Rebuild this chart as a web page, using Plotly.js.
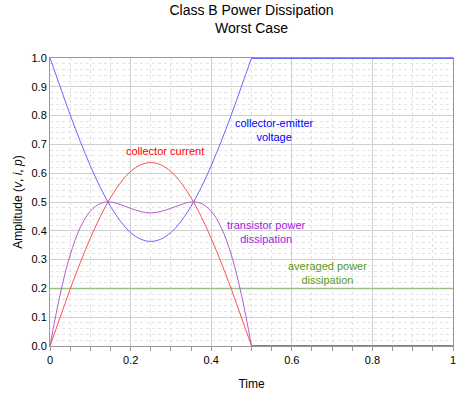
<!DOCTYPE html>
<html>
<head>
<meta charset="utf-8">
<script src="https://cdn.plot.ly/plotly-3.0.1.min.js"></script>
<style>html,body{margin:0;padding:0;background:#fff;}#chart{width:471px;height:393px;}</style>
</head>
<body>
<div id="chart"></div>
<script>
// Half-cycle (conducting) portion
const timeHalf = [0, 0.025, 0.05, 0.075, 0.1, 0.125, 0.15, 0.175, 0.2, 0.225, 0.25,
                  0.275, 0.3, 0.325, 0.35, 0.375, 0.4, 0.425, 0.45, 0.475, 0.5];
const collectorCurrent = [0, 0.099, 0.197, 0.289, 0.374, 0.450, 0.515, 0.567, 0.606, 0.629, 0.637,
                          0.629, 0.606, 0.567, 0.515, 0.450, 0.374, 0.289, 0.197, 0.099, 0];
const collectorVoltage = [1.0, 0.901, 0.803, 0.711, 0.626, 0.550, 0.485, 0.433, 0.394, 0.371, 0.363,
                          0.371, 0.394, 0.433, 0.485, 0.550, 0.626, 0.711, 0.803, 0.901, 1.0];
const transistorPower = [0, 0.178, 0.316, 0.411, 0.468, 0.495, 0.500, 0.491, 0.478, 0.467, 0.462,
                         0.467, 0.478, 0.491, 0.500, 0.495, 0.468, 0.411, 0.316, 0.178, 0];
// Off portion
const timeOff = [0.5, 1.0];
const currentOff = [0, 0];
const voltageOff = [1.0, 1.0];
const powerOff = [0, 0];
// Average dissipation
const timeAvg = [0, 1.0];
const averagePower = [0.2, 0.2];

const labels = {
  current: "collector current",
  voltage: "collector-emitter<br>voltage",
  power: "transistor power<br>dissipation",
  average: "averaged power<br>dissipation"
};

const RED = "#FF5050", BLUE = "#6666FF", PURPLE = "#B060C8", GREEN = "#98BF8A";

const traces = [
  {x: timeAvg, y: averagePower, mode: "lines", line: {color: GREEN, width: 1.5}},
  {x: timeHalf, y: collectorCurrent, mode: "lines", line: {color: RED, width: 1, shape: "spline"}},
  {x: timeOff, y: currentOff, mode: "lines", line: {color: RED, width: 2}},
  {x: timeHalf, y: collectorVoltage, mode: "lines", line: {color: BLUE, width: 1, shape: "spline"}},
  {x: timeOff, y: voltageOff, mode: "lines", line: {color: BLUE, width: 2}},
  {x: timeHalf, y: transistorPower, mode: "lines", line: {color: PURPLE, width: 1, shape: "spline"}},
  {x: timeOff, y: powerOff, mode: "lines", line: {color: "rgba(176,96,200,0.6)", width: 2}}
];

const FAM = "'Liberation Sans', Arial, sans-serif";
const annFont = (c) => ({family: FAM, size: 11, color: c});

const layout = {
  width: 471, height: 393,
  margin: {l: 50, r: 18, t: 58, b: 47},
  paper_bgcolor: "#fff", plot_bgcolor: "#fff",
  showlegend: false,
  font: {family: FAM, size: 11, color: "#000"},
  title: {
    text: "Class B Power Dissipation<br>Worst Case",
    font: {family: FAM, size: 14, color: "#000"},
    x: 0.5, xanchor: "center", xref: "paper",
    y: 0.962, yanchor: "middle", yref: "container"
  },
  xaxis: {
    range: [0, 1], dtick: 0.2, tick0: 0,
    showgrid: true, gridcolor: "#CFCFCF", gridwidth: 1,
    zeroline: false,
    showline: true, linecolor: "#999", linewidth: 1, mirror: true,
    ticks: "outside", ticklen: 4, tickcolor: "#999",
    tickfont: {family: FAM, size: 11, color: "#000"},
    minor: {dtick: 0.05, tick0: 0, showgrid: true, gridcolor: "#E0E0E0", griddash: "dot",
            ticks: "outside", ticklen: 4, tickcolor: "#999"},
    title: {text: "Time", font: {family: FAM, size: 12, color: "#000"}, standoff: 14}
  },
  yaxis: {
    range: [0, 1], dtick: 0.1, tick0: 0, tickformat: ".1f",
    showgrid: true, gridcolor: "#CFCFCF", gridwidth: 1,
    zeroline: false,
    showline: true, linecolor: "#999", linewidth: 1, mirror: true,
    ticks: "",
    tickfont: {family: FAM, size: 11, color: "#000"},
    minor: {dtick: 0.02, tick0: 0, showgrid: true, gridcolor: "#E4E4E4", griddash: "dot"},
    title: {text: "Amplitude (<i>v</i>, <i>i</i>, <i>p</i>)", font: {family: FAM, size: 12, color: "#000"}, standoff: 6}
  },
  annotations: [
    {x: 0.285, y: 0.677, xref: "x", yref: "y", text: labels.current, showarrow: false, font: annFont("#FF0000")},
    {x: 0.557, y: 0.75, xref: "x", yref: "y", text: labels.voltage, showarrow: false, font: annFont("#0000FF")},
    {x: 0.537, y: 0.396, xref: "x", yref: "y", text: labels.power, showarrow: false, font: annFont("#A020E0")},
    {x: 0.689, y: 0.253, xref: "x", yref: "y", text: labels.average, showarrow: false, font: annFont("#5A9A20")}
  ]
};

Plotly.newPlot("chart", traces, layout, {displayModeBar: false, staticPlot: true});
</script>
</body>
</html>
